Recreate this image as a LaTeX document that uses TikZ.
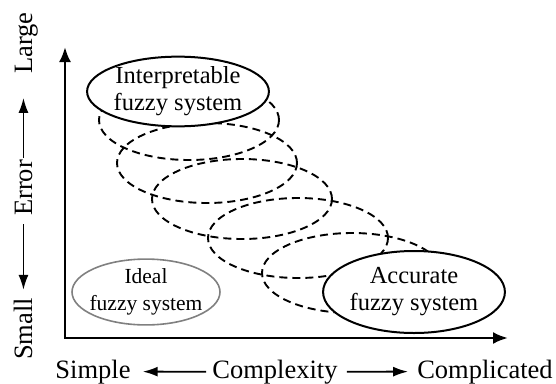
\documentclass[tikz,border=0pt]{standalone}
\usepackage{fontspec}
\setmainfont{Liberation Serif}
\usetikzlibrary{shapes.geometric,arrows.meta}

\tikzset{
  oval/.style={ellipse, draw, line width=2pt, fill=white, inner sep=0pt,
    align=center, font=\fontsize{24.5}{27}\selectfont},
  idealoval/.style={ellipse, draw=gray, line width=1.6pt, inner ysep=0pt,
    inner xsep=-4.1pt, align=center, font=\fontsize{21.5}{27}\selectfont},
  trial/.style={ellipse, draw, dash pattern=on 8pt off 5pt, line width=1.9pt,
    minimum width=180pt, minimum height=80pt, inner sep=0pt},
  lbl/.style={font=\fontsize{26.5}{30}\selectfont, inner sep=2pt},
  axis/.style={line width=2.6pt, {Latex[length=15pt,width=12pt]}-{Latex[length=15pt,width=12pt]}},
  dir/.style={line width=1.8pt, -{Latex[length=15pt,width=10pt]}}
}

\begin{document}
\begin{tikzpicture}[x=1pt, y=-1pt]
  \useasboundingbox (0,0) rectangle (556,383);

  % axes
  \coordinate (O) at (65,338);
  \coordinate (ytop) at (65,47);
  \coordinate (xend) at (508,338);
  \draw[axis] (ytop) -- (O) -- (xend);

  % axis labels
  \node[lbl, anchor=base] (simple) at (93,378) {Simple};
  \node[lbl, anchor=base] (cplx) at (275,378) {Complexity};
  \node[lbl, anchor=base] (compl) at (485,378) {Complicated};
  \draw[dir, shorten <=4pt, shorten >=10pt] (cplx.west) -- (simple.east);
  \draw[dir, shorten <=7pt, shorten >=7pt] (cplx.east) -- (compl.west);

  \node[lbl, rotate=90, anchor=base] (large) at (32,43) {Large};
  \node[lbl, rotate=90, anchor=base] (error) at (32,188) {Error};
  \node[lbl, rotate=90, anchor=base] (small) at (32,329) {Small};
  \draw[dir, shorten >=22pt] (error.east) -- (error.east |- large.west);
  \draw[dir, shorten <=6pt, shorten >=6pt] (error.west) -- (error.west |- small.east);

  % intermediate systems
  \node[trial] (t1) at (189,120) {};
  \node[trial] (t2) at (207,163) {};
  \node[trial] (t3) at (242,199) {};
  \node[trial] (t4) at (298,238) {};
  \node[trial] (t5) at (352,273) {};

  % end points
  \node[oval, minimum width=180pt, minimum height=67pt] (interp) at (178,91.5)
    {Interpretable\\fuzzy system};
  \node[oval, minimum width=180pt, minimum height=82pt] (accur) at (414,292)
    {Accurate\\fuzzy system};
  \node[idealoval] (ideal) at (146,292) {Ideal\\fuzzy system};
\end{tikzpicture}
\end{document}
